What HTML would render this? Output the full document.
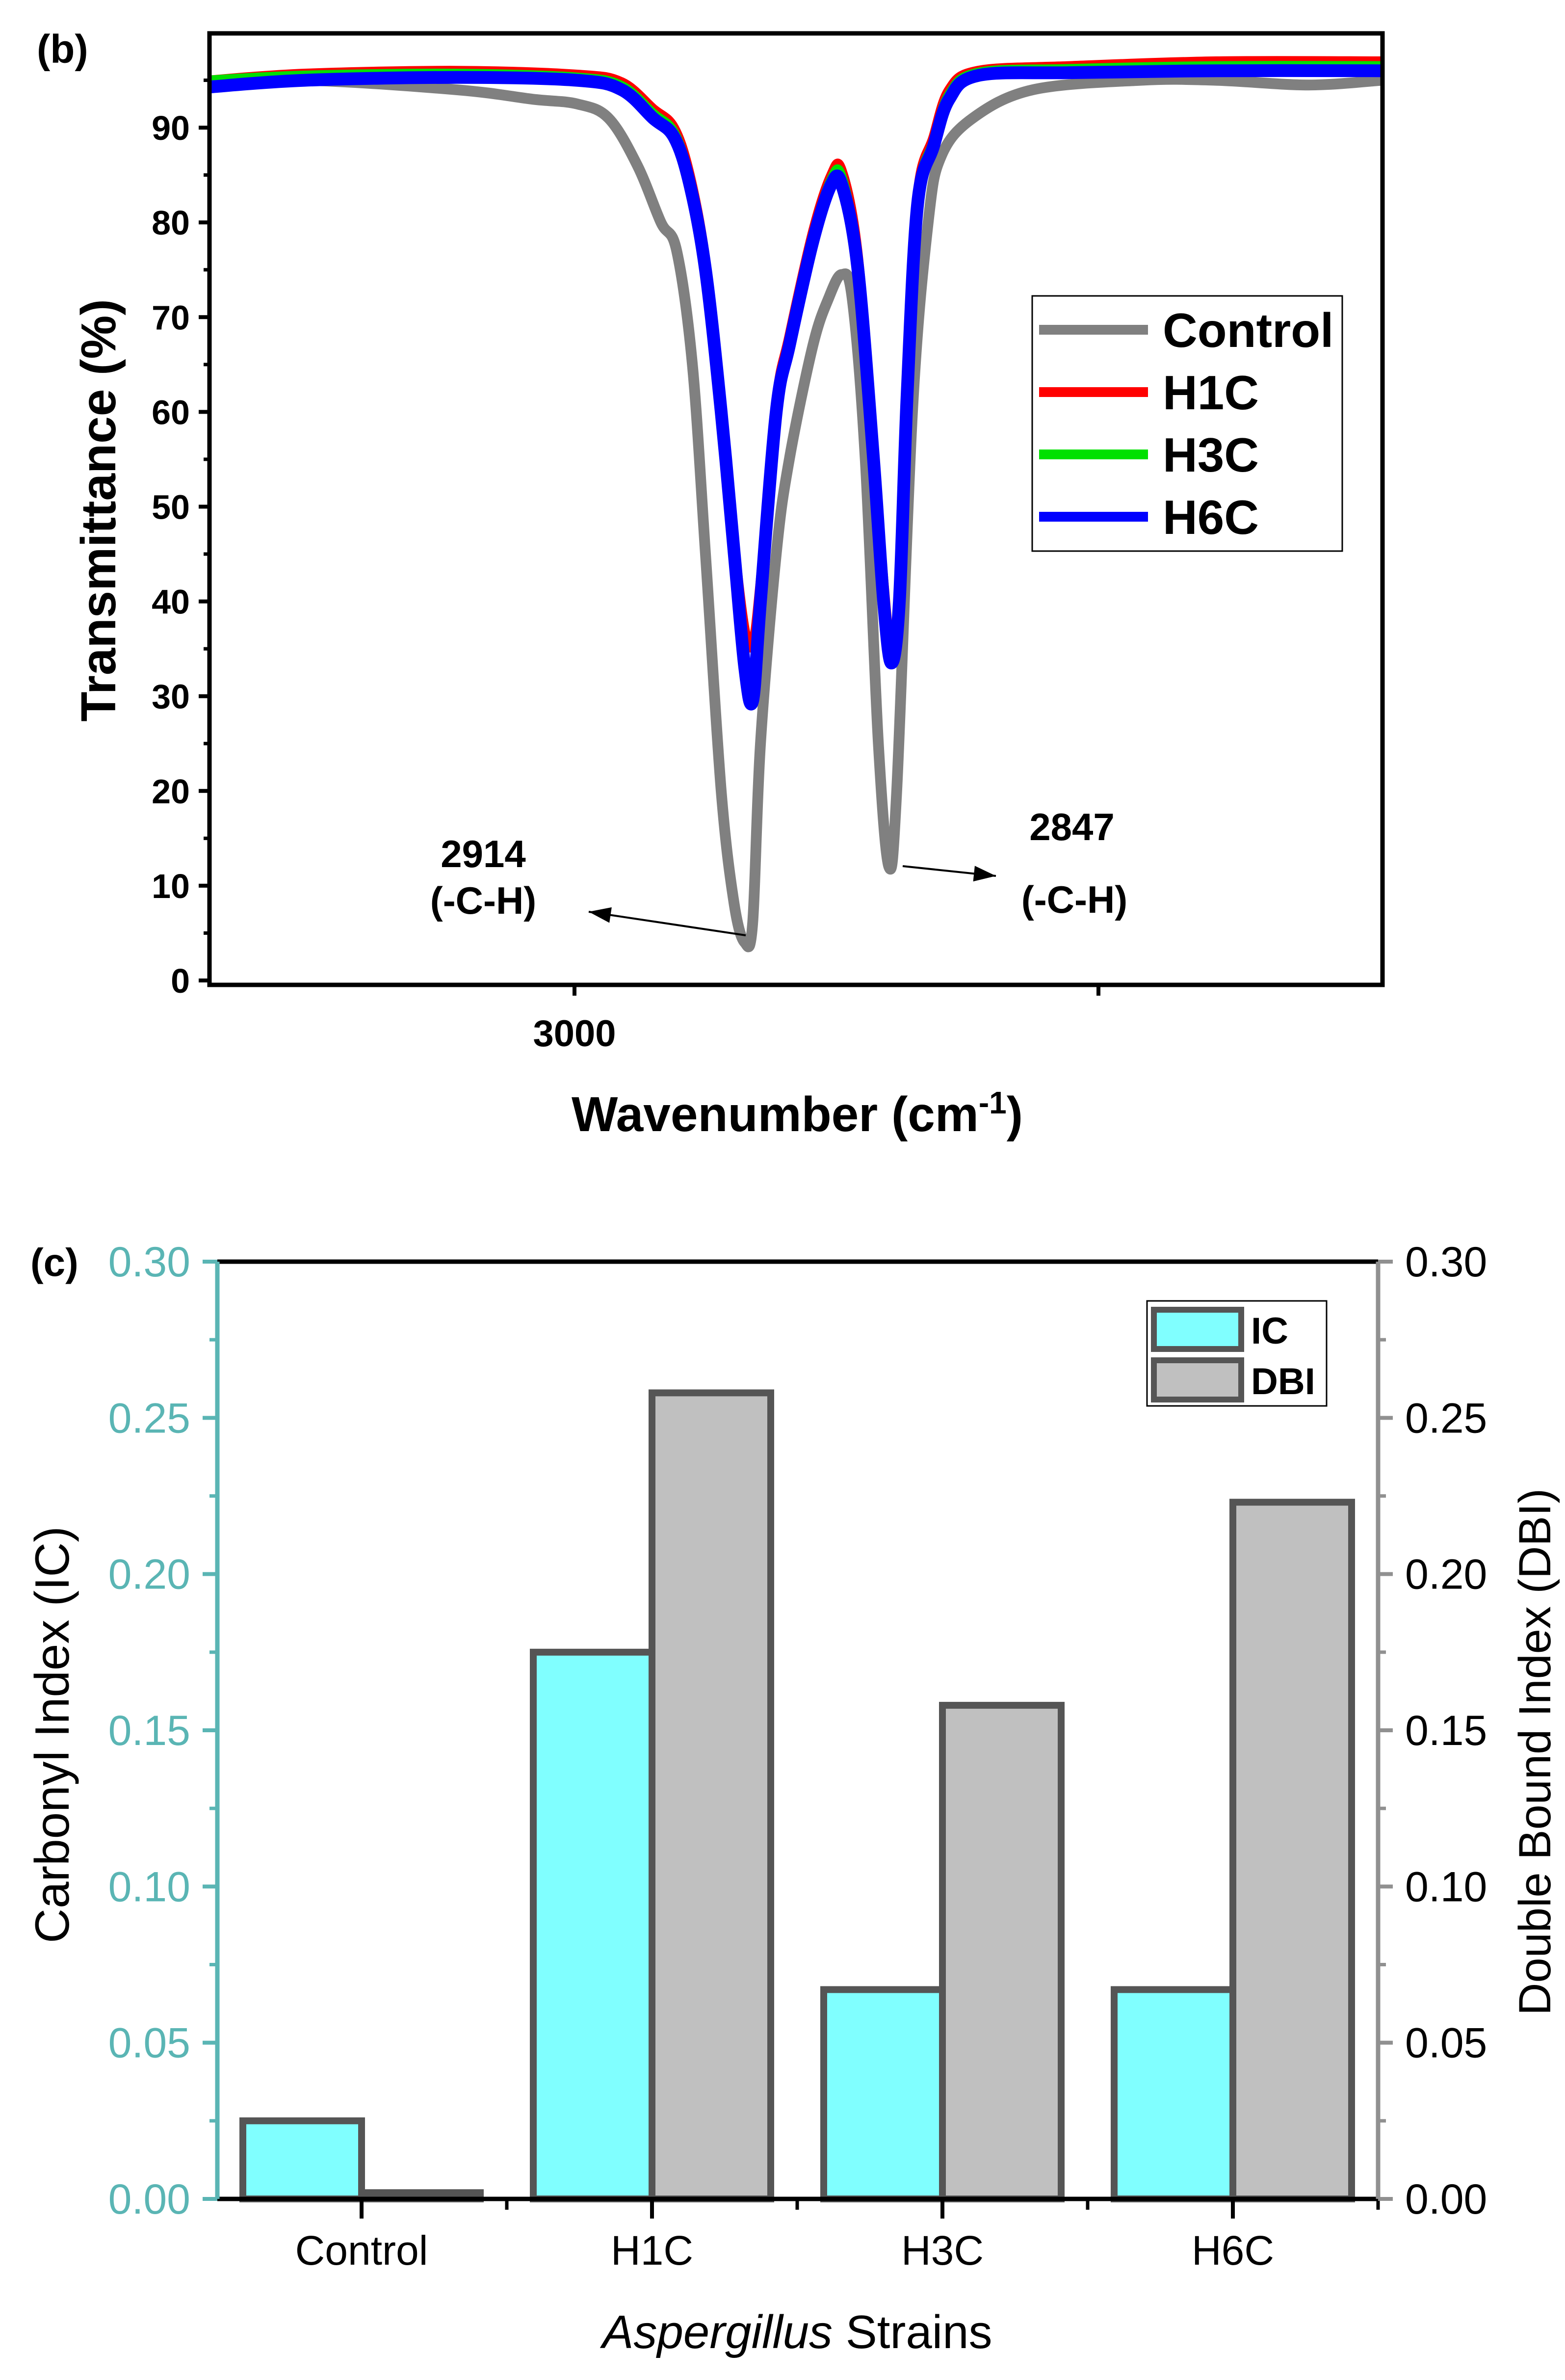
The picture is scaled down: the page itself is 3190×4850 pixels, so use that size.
<!DOCTYPE html>
<html><head><meta charset="utf-8"><style>
html,body{margin:0;padding:0;background:#fff}
svg{display:block}
text{font-family:"Liberation Sans",sans-serif}
</style></head><body>
<svg id="fig" width="3190" height="4850" viewBox="0 0 3190 4850" xmlns="http://www.w3.org/2000/svg">
<rect width="3190" height="4850" fill="#fff"/>
<g id="chartB"></g>
<g id="chartC"></g>
</svg>
<script>
// ---- Chart (b) data ----
const wnControl=[3139,3103,3045,3016,2999,2987,2976,2967,2961,2955,2950,2944,2939,2935,2932,2929,2923,2918,2909,2903,2898,2894,2889,2884,2880,2877,2871,2865,2860,2848,2825,2784,2755,2720,2692];
const tControl=[94.5,95,94,93,92.5,91,86,80,77,65,45,20,8,4,6,25,45,55,67,72,74.5,72,55,25,12,20,60,80,87,91,94,95,95,94.5,95];
const wnH=[3139,3103,3045,2999,2982,2970,2962,2956,2950,2944,2939,2935,2932,2929,2923,2918,2909,2902,2898,2892,2886,2882,2879,2876,2873,2869,2863,2857,2846,2811,2755,2692];
const tH1C=[95,95.7,96,95.6,94.8,92,90,85,76,61,46,37,35.5,42,61,68,79,85,85.5,77,57,42,35,41,63,83,89,94,96,96.5,97,97];
const tH3C=[95,95.5,95.7,95.3,94.4,91.5,89.5,84.5,75.5,60,45,34,32,40,60.5,67.5,78.5,84.5,84.8,76,56,41,33.5,40.5,62.5,82.5,88.5,93.5,95.8,96.2,96.5,96.5];
const tH6C=[94.3,95,95.3,95,94,91,89,84,75,60,45,33,29.5,40,60,67,78,84,84,75.5,55.5,40,33.5,40,62,82,88,93,95.5,95.8,96,96];
const yTicksB=[0,10,20,30,40,50,60,70,80,90];
const xTicksB=[3000,2800];
const legendB=["Control","H1C","H3C","H6C"];
const colorsB=["#808080","#ff0000","#00e000","#0000ff"];
// ---- Chart (c) data ----
const cats=["Control","H1C","H3C","H6C"];
const icVals=[0.025,0.175,0.067,0.067];
const dbiVals=[0.002,0.258,0.158,0.223];
const yTicksC=[0,0.05,0.10,0.15,0.20,0.25,0.30];

const NS="http://www.w3.org/2000/svg";
function mk(tag,attrs,parent,txt){const e=document.createElementNS(NS,tag);for(const k in attrs)e.setAttribute(k,attrs[k]);if(txt!==undefined)e.textContent=txt;parent.appendChild(e);return e;}
function smooth(pts){
  let d='M'+pts[0][0].toFixed(1)+' '+pts[0][1].toFixed(1);
  for(let i=0;i<pts.length-1;i++){
    const p0=pts[Math.max(0,i-1)],p1=pts[i],p2=pts[i+1],p3=pts[Math.min(pts.length-1,i+2)];
    const t=1/6;
    const c1=[p1[0]+(p2[0]-p0[0])*t,p1[1]+(p2[1]-p0[1])*t];
    const c2=[p2[0]-(p3[0]-p1[0])*t,p2[1]-(p3[1]-p1[1])*t];
    d+=` C${c1[0].toFixed(1)} ${c1[1].toFixed(1)} ${c2[0].toFixed(1)} ${c2[1].toFixed(1)} ${p2[0].toFixed(1)} ${p2[1].toFixed(1)}`;
  }
  return d;
}

// ===== Chart B =====
const B=document.getElementById('chartB');
const bL=427,bR=2818,bT=68,bB=2007;
const xB=w=>1171+(3000-w)*5.34;
const yB=v=>1998-v*19.31;
let e;
e=mk('text',{x:75,y:128,'font-size':82,'font-weight':'bold'},B,'(b)');

const clipB=mk('clipPath',{id:'clipB'},B);mk('rect',{x:bL,y:bT,width:bR-bL,height:bB-bT},clipB);
const series=[[wnControl,tControl],[wnH,tH1C],[wnH,tH3C],[wnH,tH6C]];
[0,1,2,3].forEach(i=>{
  const [xs,ys]=series[i];
  const pts=xs.map((w,j)=>[xB(w),yB(ys[j])]);
  const p=mk('path',{d:smooth(pts),fill:'none',stroke:colorsB[i],'stroke-width':i===3?26:(i===0?22:20),'stroke-linejoin':'round','clip-path':'url(#clipB)'},B);
  
  
});
e=mk('rect',{x:bL,y:bT,width:bR-bL,height:bB-bT,fill:'none',stroke:'#000','stroke-width':9},B);

yTicksB.forEach(v=>{
  mk('line',{x1:bL-22,x2:bL,y1:yB(v),y2:yB(v),stroke:'#000','stroke-width':8},B);
  mk('line',{x1:bL-12,x2:bL,y1:yB(v+5),y2:yB(v+5),stroke:'#000','stroke-width':7},B);
  const t=mk('text',{x:bL-40,y:yB(v)+25,'font-size':70,'font-weight':'bold','text-anchor':'end'},B,String(v));
  
});
xTicksB.forEach(w=>{
  mk('line',{x1:xB(w),x2:xB(w),y1:bB,y2:bB+22,stroke:'#000','stroke-width':8},B);
});
e=mk('text',{x:xB(3000),y:2132,'font-size':76,'font-weight':'bold','text-anchor':'middle'},B,'3000');

e=mk('text',{x:1625,y:2305,'font-size':100,'font-weight':'bold','text-anchor':'middle'},B);

e.innerHTML='Wavenumber (cm<tspan dy="-36" font-size="64">-1</tspan><tspan dy="36">)</tspan>';
e=mk('text',{x:0,y:0,'font-size':100,'font-weight':'bold','text-anchor':'middle',transform:'translate(235,1040) rotate(-90)'},B,'Transmittance (%)');

[['2914',985,1767],['(-C-H)',985,1862],['2847',2185,1712],['(-C-H)',2190,1860]].forEach(a=>{
  const t=mk('text',{x:a[1],y:a[2],'font-size':78,'font-weight':'bold','text-anchor':'middle'},B,a[0]);
  
});
[[1520,1906,1200,1858],[1840,1765,2030,1785]].forEach(a=>{
  const l=mk('line',{x1:a[0],y1:a[1],x2:a[2],y2:a[3],stroke:'#000','stroke-width':4},B);
  
  const ang=Math.atan2(a[3]-a[1],a[2]-a[0]);const L=45,W=16;
  const bx=a[2]-L*Math.cos(ang),by=a[3]-L*Math.sin(ang);
  mk('path',{d:`M${a[2]} ${a[3]} L${bx-W*Math.sin(ang)} ${by+W*Math.cos(ang)} L${bx+W*Math.sin(ang)} ${by-W*Math.cos(ang)}Z`,fill:'#000'},B);
});
const lg=mk('g',{},B);
mk('rect',{x:2104,y:603,width:632,height:520,fill:'#fff',stroke:'#000','stroke-width':3},lg);
legendB.forEach((n,i)=>{
  const y=672+i*127;
  const it=mk('g',{},lg);
  mk('line',{x1:2118,x2:2340,y1:y,y2:y,stroke:colorsB[i],'stroke-width':20},it);
  mk('text',{x:2370,y:y+35,'font-size':98,'font-weight':'bold'},it,n);
});

// ===== Chart C =====
const C=document.getElementById('chartC');
const cL=443,cR=2809,cT=2571,cB=4481;
const yC=v=>cB-v*(cB-cT)/0.30;
const step=592,c0=737,bw=242;
const xC=i=>c0+i*step;
const teal='#5ab5b4';
e=mk('text',{x:62,y:2600,'font-size':80,'font-weight':'bold'},C,'(c)');

cats.forEach((c,i)=>{
  let r=mk('rect',{x:xC(i)-bw,y:yC(icVals[i]),width:bw,height:cB-yC(icVals[i]),fill:'#80ffff',stroke:'#555','stroke-width':14},C);
  
  r=mk('rect',{x:xC(i),y:yC(dbiVals[i]),width:bw,height:cB-yC(dbiVals[i]),fill:'#c0c0c0',stroke:'#555','stroke-width':14},C);
  
  const t=mk('text',{x:xC(i),y:4615,'font-size':84,'text-anchor':'middle'},C,c);
  
  mk('line',{x1:xC(i),x2:xC(i),y1:cB,y2:cB+40,stroke:'#000','stroke-width':8},C);
  mk('line',{x1:xC(i)+step/2,x2:xC(i)+step/2,y1:cB,y2:cB+22,stroke:'#000','stroke-width':7},C);
});
mk('line',{x1:cL,x2:cR,y1:cT,y2:cT,stroke:'#000','stroke-width':9},C);
mk('line',{x1:cL,x2:cR,y1:cB,y2:cB,stroke:'#000','stroke-width':9},C);
mk('line',{x1:cL,x2:cL,y1:cT,y2:cB,stroke:teal,'stroke-width':9},C);
mk('line',{x1:cR,x2:cR,y1:cT,y2:cB,stroke:'#909090','stroke-width':9},C);
yTicksC.forEach(v=>{
  mk('line',{x1:cL-30,x2:cL,y1:yC(v),y2:yC(v),stroke:teal,'stroke-width':8},C);
  mk('line',{x1:cR,x2:cR+30,y1:yC(v),y2:yC(v),stroke:'#909090','stroke-width':8},C);
  if(v<0.3){mk('line',{x1:cL-16,x2:cL,y1:yC(v+0.025),y2:yC(v+0.025),stroke:teal,'stroke-width':7},C);
  mk('line',{x1:cR,x2:cR+16,y1:yC(v+0.025),y2:yC(v+0.025),stroke:'#909090','stroke-width':7},C);}
  let t=mk('text',{x:cL-55,y:yC(v)+30,'font-size':86,fill:teal,'text-anchor':'end'},C,v.toFixed(2));
  
  t=mk('text',{x:cR+55,y:yC(v)+30,'font-size':86,fill:'#000'},C,v.toFixed(2));
  
});
e=mk('text',{x:0,y:0,'font-size':98,'text-anchor':'middle',transform:'translate(140,3535) rotate(-90)'},C,'Carbonyl Index (IC)');

e=mk('text',{x:0,y:0,'font-size':92,'text-anchor':'middle',transform:'translate(3160,3570) rotate(-90)'},C,'Double Bound Index (DBI)');

e=mk('text',{x:1625,y:4785,'font-size':96,'text-anchor':'middle'},C);

e.innerHTML='<tspan font-style="italic">Aspergillus</tspan> Strains';
const lc=mk('g',{},C);
mk('rect',{x:2338,y:2651,width:366,height:214,fill:'#fff',stroke:'#000','stroke-width':3},lc);
[['IC','#80ffff'],['DBI','#c0c0c0']].forEach((d,i)=>{
  const it=mk('g',{},lc);
  mk('rect',{x:2352,y:2669+i*103,width:178,height:80,fill:d[1],stroke:'#555','stroke-width':12},it);
  mk('text',{x:2550,y:2738+i*103,'font-size':76,'font-weight':'bold'},it,d[0]);
});
</script>
</body></html>
